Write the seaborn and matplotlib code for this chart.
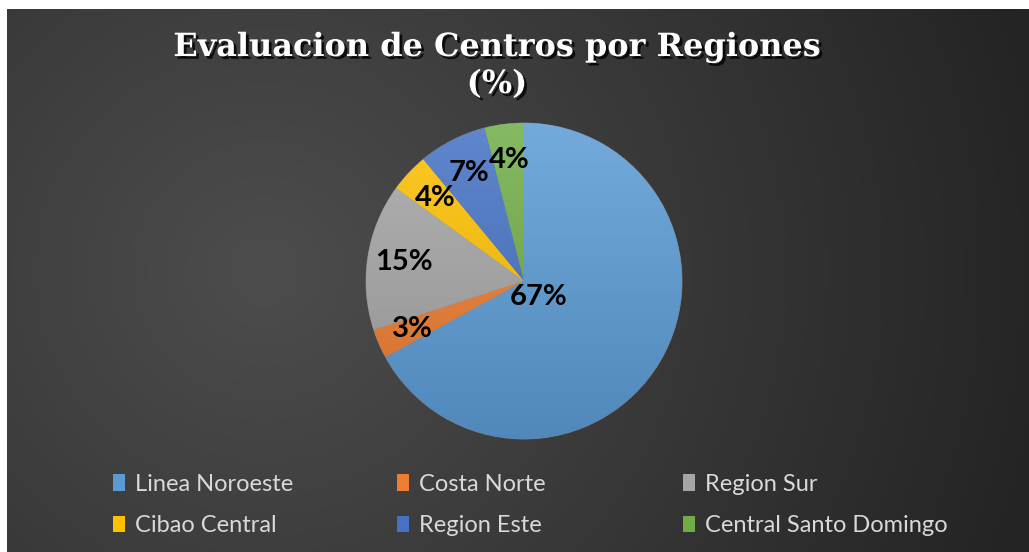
import numpy as np
import matplotlib
matplotlib.use("Agg")
import matplotlib.pyplot as plt
import matplotlib.patheffects as pe
from matplotlib.patches import Patch
from matplotlib.colors import to_rgb
import seaborn as sns

sns.set_theme(style="white")
plt.rcParams['font.family'] = ['Lato', 'DejaVu Sans']

categories = ["Linea Noroeste", "Costa Norte", "Region Sur",
              "Cibao Central", "Region Este", "Central Santo Domingo"]
values = [67, 3, 15, 4, 7, 4]
title = "Evaluacion de Centros por Regiones\n(%)"

colors = ["#5B9BD5", "#ED7D31", "#A5A5A5", "#FFC000", "#4472C4", "#70AD47"]

W, H = 1029, 552
fig = plt.figure(figsize=(W / 100, H / 100), dpi=100)
fig.patch.set_facecolor("white")

# background panel with radial gradient
bg = fig.add_axes([7 / W, 0, (W - 7) / W, (H - 9) / H])
bg.set_axis_off()
yy, xx = np.mgrid[0:200, 0:400]
cx, cy = 200 * (520 - 7) / (W - 7), 200 * (270 - 9) / (H - 9)
d = np.sqrt(((xx - cx) / 400) ** 2 + ((yy - cy) / 200 * 0.55) ** 2)
d = np.clip(d / d.max(), 0, 1)
c0, c1 = np.array(to_rgb("#4d4d4d")), np.array(to_rgb("#232323"))
img = c0[None, None, :] * (1 - d[..., None]) + c1[None, None, :] * d[..., None]
bg.imshow(img, aspect="auto", extent=[0, 1, 0, 1], origin="upper")
bg.set_xlim(0, 1)
bg.set_ylim(0, 1)

# pie axes
R = 158
cxp, cyp = 524, 281
half = 1.1 * R
ax = fig.add_axes([(cxp - half) / W, (H - cyp - half) / H, 2 * half / W, 2 * half / H])
ax.set_axis_off()
wedges, texts, autotexts = ax.pie(
    values, colors=colors, startangle=90, counterclock=False,
    autopct="%d%%", pctdistance=0.77,
    wedgeprops=dict(linewidth=0.6, edgecolor="#7f7f7f"),
    textprops=dict(fontsize=21, fontweight="bold", color="black"))
ax.set_xlim(-1.1, 1.1)
ax.set_ylim(-1.1, 1.1)
ax.set_aspect("equal")

# vertical gradient fills clipped to each wedge
grad = np.linspace(0, 1, 256)[:, None]
for w, c in zip(wedges, colors):
    base = np.array(to_rgb(c))
    top = base + (1 - base) * 0.15
    bot = base * 0.88
    g = top[None, None, :] * (1 - grad[..., None]) + bot[None, None, :] * grad[..., None]
    g = np.repeat(g, 2, axis=1)
    im = ax.imshow(g, extent=[-1, 1, -1, 1], origin="upper", aspect="auto", zorder=w.get_zorder() + 0.1)
    im.set_clip_path(w)
for t in autotexts:
    t.set_zorder(10)
autotexts[0].set_position((0.09, -0.1))

fig.text(497 / W, 1 - 66 / H, title, ha="center", va="center",
         fontsize=23, fontweight="bold", family=["DejaVu Serif"], color="white",
         linespacing=1.25,
         path_effects=[pe.SimplePatchShadow(offset=(2, -2), shadow_rgbFace="black", alpha=0.8),
                       pe.Normal()])

# legend: three columns, two rows each
order = [[0, 3], [1, 4], [2, 5]]
xs = [113, 397, 683]
for col, x in zip(order, xs):
    handles = [Patch(facecolor=colors[i], edgecolor="none") for i in col]
    labels = [categories[i] for i in col]
    fig.legend(handles, labels, loc="upper left",
               bbox_to_anchor=(x / W, 1 - 474 / H), frameon=False,
               fontsize=17, labelcolor="#d9d9d9", handlelength=0.5,
               handleheight=0.7, handletextpad=0.42, labelspacing=0.85,
               borderpad=0, borderaxespad=0)

fig.savefig("out.png", dpi=100, facecolor=fig.get_facecolor())
